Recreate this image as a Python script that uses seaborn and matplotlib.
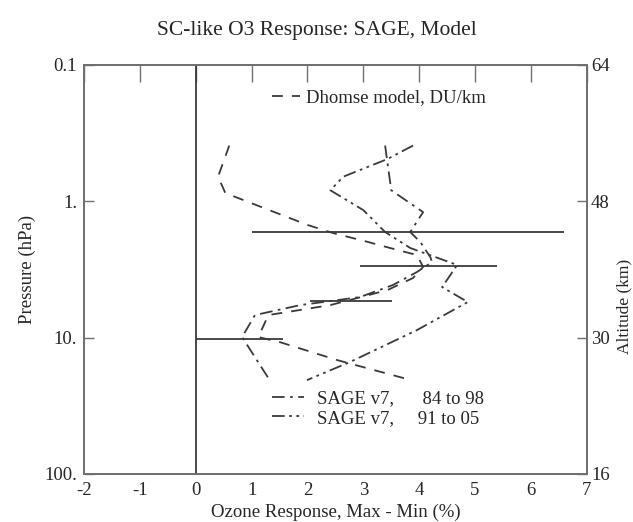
import matplotlib
matplotlib.use("Agg")
import matplotlib.pyplot as plt
import seaborn as sns
from matplotlib.lines import Line2D

# Dhomse model (DU/km)
model_x = [0.60, 0.40, 0.53, 2.00, 2.46, 3.09, 3.48, 3.96, 4.07, 3.89, 3.43, 2.41, 1.30, 1.12, 1.51, 2.53, 3.78]
model_p = [0.39, 0.66, 0.87, 1.49, 1.71, 1.99, 2.20, 2.48, 3.03, 3.65, 4.48, 5.77, 6.83, 9.9, 10.8, 14.6, 20.1]

# SAGE v7, 84 to 98
sage84_x = [3.39, 3.50, 4.07, 3.84, 4.02, 4.20, 4.23, 3.96, 3.53, 2.94, 1.87, 1.06, 0.83, 1.30]
sage84_p = [0.39, 0.83, 1.20, 1.68, 1.99, 2.57, 2.79, 3.30, 4.11, 5.04, 5.77, 6.83, 9.9, 19.8]

# SAGE v7, 91 to 05
sage91_x = [3.89, 3.43, 2.64, 2.41, 3.00, 3.39, 3.84, 4.68, 4.41, 4.87, 3.96, 2.76, 1.99]
sage91_p = [0.39, 0.49, 0.66, 0.83, 1.16, 1.68, 2.20, 2.93, 4.26, 5.48, 8.8, 15.1, 20.5]

# horizontal error bars
bar_p = [1.68, 2.99, 5.38, 10.2]
bar_lo = [1.0, 2.94, 2.05, 0.0]
bar_hi = [6.6, 5.4, 3.52, 1.57]

p_ticks = [0.1, 1, 10, 100]
p_labels = ["0.1", "1.", "10.", "100."]
alt_labels = ["64", "48", "30", "16"]
x_ticks = [-2, -1, 0, 1, 2, 3, 4, 5, 6, 7]

sns.set_theme(style="white")
plt.rcParams["font.family"] = ["Liberation Serif", "DejaVu Serif"]

line_col = "#3a3a3a"
spine_col = "#707070"
fs = 13.5

fig = plt.figure(figsize=(6.33, 5.22), dpi=100)
ax = fig.add_axes([0.1327, 0.092, 0.7943, 0.7835])

dash_model = (0, (6, 5))
dash_84 = (0, (7, 3, 1.5, 3))
dash_91 = (0, (7, 2.5, 1.5, 2.5, 1.5, 2.5))

sns.lineplot(x=model_x, y=model_p, sort=False, estimator=None, ax=ax,
             color=line_col, linewidth=1.3, linestyle=dash_model)
sns.lineplot(x=sage84_x, y=sage84_p, sort=False, estimator=None, ax=ax,
             color=line_col, linewidth=1.3, linestyle=dash_84)
sns.lineplot(x=sage91_x, y=sage91_p, sort=False, estimator=None, ax=ax,
             color=line_col, linewidth=1.3, linestyle=dash_91)

ax.hlines(bar_p, bar_lo, bar_hi, color=line_col, linewidth=1.3)
ax.axvline(0, color=line_col, linewidth=1.3)

ax.set_yscale("log")
ax.set_xlim(-2, 7)
ax.set_ylim(100, 0.1)
ax.set_xticks(x_ticks)
ax.set_xticklabels([str(t) for t in x_ticks])
ax.set_yticks(p_ticks)
ax.set_yticklabels(p_labels)
ax.minorticks_off()
ax.tick_params(axis="x", direction="in", length=12, width=1, color=spine_col,
               top=True, labelsize=fs, pad=6)
ax.tick_params(axis="y", direction="in", length=7, width=1, color=spine_col,
               labelsize=fs, pad=5)
for s in ax.spines.values():
    s.set_color(spine_col)
    s.set_linewidth(1.3)

ax.set_xlabel("Ozone Response, Max - Min (%)", fontsize=fs)
ax.xaxis.set_label_coords(0.5, -0.072)
ax.set_ylabel("Pressure (hPa)", fontsize=fs, labelpad=6)
fig.text(0.5, 1 - 30 / 522, "SC-like O3 Response: SAGE, Model",
         fontsize=15.5, ha="center", va="center")

ax2 = ax.twinx()
ax2.set_yscale("log")
ax2.set_ylim(100, 0.1)
ax2.set_yticks(p_ticks)
ax2.set_yticklabels(alt_labels)
ax2.minorticks_off()
ax2.tick_params(axis="y", direction="in", length=7, width=1, color=spine_col,
                labelsize=fs, pad=3)
ax2.set_ylabel("Altitude (km)", fontsize=12.5)
ax2.yaxis.set_label_coords(1.058, 0.41)
for s in ax2.spines.values():
    s.set_color(spine_col)
    s.set_linewidth(1.3)

h_model = [Line2D([], [], color=line_col, linewidth=1.3, linestyle=dash_model)]
leg1 = ax.legend(h_model, ["Dhomse model, DU/km"], loc="upper left",
                 bbox_to_anchor=(0.374, 0.941), frameon=False, fontsize=fs,
                 handlelength=1.5, handletextpad=0.3, borderpad=0,
                 borderaxespad=0)
ax.add_artist(leg1)

h_sage = [Line2D([], [], color=line_col, linewidth=1.3, linestyle=dash_84),
          Line2D([], [], color=line_col, linewidth=1.3, linestyle=dash_91)]
ax.legend(h_sage, ["SAGE v7,      84 to 98", "SAGE v7,     91 to 05"],
          loc="upper left", bbox_to_anchor=(0.374, 0.205), frameon=False,
          fontsize=fs, handlelength=1.7, handletextpad=0.7, labelspacing=0.12,
          borderpad=0, borderaxespad=0)

fig.savefig("out.png", dpi=100)
